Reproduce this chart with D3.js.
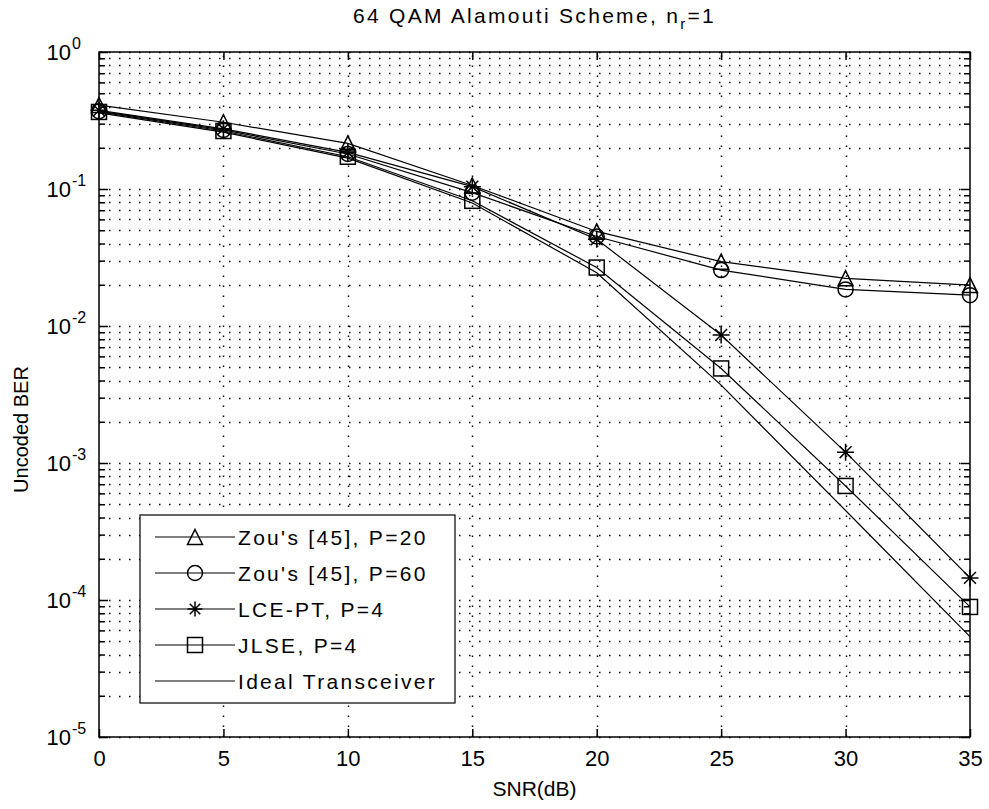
<!DOCTYPE html>
<html>
<head>
<meta charset="utf-8">
<script src="https://cdn.jsdelivr.net/npm/d3@7"></script>
<style>
  html, body { margin: 0; padding: 0; background: #fff; }
  svg { display: block; font-family: "Liberation Sans", Arial, Helvetica, sans-serif; }
</style>
</head>
<body>
<svg id="chart" width="989" height="809"></svg>
<script>
// SNR points (dB)
const snr = [0, 5, 10, 15, 20, 25, 30, 35];

// Uncoded BER per scheme
const berZouP20 = [0.41, 0.307, 0.215, 0.106, 0.049, 0.0295, 0.0223, 0.0199];
const berZouP60 = [0.37, 0.27, 0.18, 0.094, 0.045, 0.0256, 0.0185, 0.0168];
const berLcePt  = [0.375, 0.275, 0.185, 0.104, 0.043, 0.0086, 0.0012, 0.000145];
const berJlse   = [0.365, 0.265, 0.172, 0.082, 0.0267, 0.0049, 0.00068, 0.000089];
const berIdeal  = [0.36, 0.26, 0.168, 0.079, 0.0245, 0.0037, 0.00045, 0.000054];

const seriesNames = ["Zou's [45], P=20", "Zou's [45], P=60", "LCE-PT, P=4", "JLSE, P=4", "Ideal Transceiver"];
const seriesMarkers = ["triangle", "circle", "star", "square", "none"];
const seriesValues = [berZouP20, berZouP60, berLcePt, berJlse, berIdeal];

const xTicks = [0, 5, 10, 15, 20, 25, 30, 35];
const yDecadeExponents = [0, -1, -2, -3, -4, -5];

const titleText = "64 QAM Alamouti Scheme, n";
const titleSub = "r";
const titleTail = "=1";
const xLabel = "SNR(dB)";
const yLabel = "Uncoded BER";

const svg = d3.select("#chart");
const W = 989, H = 809;
const m = { left: 99, right: 19, top: 52, bottom: 72 };
const x0 = m.left, x1 = W - m.right, y0 = H - m.bottom, y1 = m.top;

svg.append("rect").attr("width", W).attr("height", H).attr("fill", "#fff");

const x = d3.scaleLinear().domain([0, 35]).range([x0, x1]);
const y = d3.scaleLog().domain([1e-5, 1]).range([y0, y1]);

const decades = yDecadeExponents.map(e => Math.pow(10, e));
const minorVals = [];
for (let e = -5; e < 0; e++) {
  for (let k = 2; k <= 9; k++) minorVals.push(k * Math.pow(10, e));
}

// dotted grid
const grid = svg.append("g").attr("stroke", "#000").attr("stroke-width", 1.5)
  .attr("stroke-dasharray", "1.5,8.5").attr("fill", "none");
decades.concat(minorVals).forEach(v => {
  grid.append("line").attr("x1", x0).attr("x2", x1)
    .attr("y1", Math.round(y(v)) + 0.5).attr("y2", Math.round(y(v)) + 0.5);
});
xTicks.filter(t => t > 0 && t < 35).forEach(t => {
  grid.append("line").attr("y1", y0).attr("y2", y1)
    .attr("x1", Math.round(x(t)) + 0.5).attr("x2", Math.round(x(t)) + 0.5);
});

// series lines and markers
const line = d3.line().x((d, i) => x(snr[i])).y(d => y(d));
const plot = svg.append("g");

function drawMarker(g, type, cx, cy, s) {
  const h = s / 2;
  if (type === "triangle") {
    g.append("path").attr("d", `M${cx},${cy - h}L${cx + h},${cy + h}L${cx - h},${cy + h}Z`)
      .attr("fill", "none").attr("stroke", "#000").attr("stroke-width", 1.5);
  } else if (type === "circle") {
    g.append("circle").attr("cx", cx).attr("cy", cy).attr("r", h)
      .attr("fill", "none").attr("stroke", "#000").attr("stroke-width", 1.5);
  } else if (type === "square") {
    g.append("rect").attr("x", cx - h).attr("y", cy - h).attr("width", s).attr("height", s)
      .attr("fill", "none").attr("stroke", "#000").attr("stroke-width", 1.5);
  } else if (type === "star") {
    const d = h * 0.7;
    g.append("path")
      .attr("d", `M${cx - h},${cy}L${cx + h},${cy}M${cx},${cy - h}L${cx},${cy + h}` +
                 `M${cx - d},${cy - d}L${cx + d},${cy + d}M${cx - d},${cy + d}L${cx + d},${cy - d}`)
      .attr("fill", "none").attr("stroke", "#000").attr("stroke-width", 1.5);
  }
}

seriesValues.forEach((vals, si) => {
  plot.append("path").datum(vals).attr("d", line)
    .attr("fill", "none").attr("stroke", "#000").attr("stroke-width", 1.2);
});
seriesValues.forEach((vals, si) => {
  const type = seriesMarkers[si];
  if (type === "none") return;
  const size = type === "star" ? 17 : 15;
  vals.forEach((v, i) => drawMarker(plot, type, x(snr[i]), y(v), size));
});

// axes box
svg.append("rect").attr("x", x0).attr("y", y1).attr("width", x1 - x0).attr("height", y0 - y1)
  .attr("fill", "none").attr("stroke", "#000").attr("stroke-width", 1.5);

// ticks (inward)
const axisStyle = g => {
  g.select(".domain").remove();
  g.selectAll(".tick line").attr("stroke", "#000").attr("stroke-width", 1.5);
};
svg.append("g").attr("transform", `translate(0,${y0})`)
  .call(d3.axisBottom(x).tickValues(xTicks).tickSize(-8).tickPadding(13).tickFormat(d3.format("d")))
  .call(axisStyle)
  .call(g => g.selectAll("text").attr("font-size", 22).attr("fill", "#000")
    .attr("font-family", "Liberation Sans, Arial, sans-serif"));
svg.append("g").attr("transform", `translate(0,${y1})`)
  .call(d3.axisTop(x).tickValues(xTicks).tickSize(-8).tickFormat(""))
  .call(axisStyle);
svg.append("g").attr("transform", `translate(${x0},0)`)
  .call(d3.axisLeft(y).tickValues(decades).tickSize(-9).tickFormat(""))
  .call(axisStyle);
svg.append("g").attr("transform", `translate(${x0},0)`)
  .call(d3.axisLeft(y).tickValues(minorVals).tickSize(-6).tickFormat(""))
  .call(axisStyle);
svg.append("g").attr("transform", `translate(${x1},0)`)
  .call(d3.axisRight(y).tickValues(decades).tickSize(-9).tickFormat(""))
  .call(axisStyle);
svg.append("g").attr("transform", `translate(${x1},0)`)
  .call(d3.axisRight(y).tickValues(minorVals).tickSize(-6).tickFormat(""))
  .call(axisStyle);

// y decade labels 10^e
yDecadeExponents.forEach(e => {
  svg.append("text").attr("x", x0 - 28).attr("y", y(Math.pow(10, e)) + 8)
    .attr("text-anchor", "end").attr("font-size", 22).attr("fill", "#000")
    .text("10");
  svg.append("text").attr("x", x0 - 27).attr("y", y(Math.pow(10, e)) - 3)
    .attr("text-anchor", "start").attr("font-size", 16).attr("fill", "#000")
    .text(String(e));
});

// title
const title = svg.append("text").attr("x", (x0 + x1) / 2).attr("y", 23)
  .attr("text-anchor", "middle").attr("font-size", 21).attr("fill", "#000")
  .attr("letter-spacing", 2.3);
title.append("tspan").text(titleText);
title.append("tspan").attr("font-size", 15).attr("dy", 6).text(titleSub);
title.append("tspan").attr("dy", -6).text(titleTail);

// axis labels
svg.append("text").attr("x", (x0 + x1) / 2).attr("y", 796).attr("text-anchor", "middle")
  .attr("font-size", 21).attr("fill", "#000").text(xLabel);
svg.append("text").attr("transform", `translate(28,${(y0 + y1) / 2 + 35}) rotate(-90)`)
  .attr("text-anchor", "middle").attr("font-size", 20).attr("fill", "#000").text(yLabel);

// legend
const lg = svg.append("g");
const lgX = 140, lgY = 515, lgW = 315, lgH = 188, rowH = 36;
lg.append("rect").attr("x", lgX).attr("y", lgY).attr("width", lgW).attr("height", lgH)
  .attr("fill", "#fff").attr("stroke", "#000").attr("stroke-width", 1.2);
seriesNames.forEach((name, i) => {
  const cy = lgY + 22 + i * rowH;
  lg.append("line").attr("x1", lgX + 15).attr("x2", lgX + 95).attr("y1", cy).attr("y2", cy)
    .attr("stroke", "#000").attr("stroke-width", 1.2);
  const type = seriesMarkers[i];
  if (type !== "none") drawMarker(lg, type, lgX + 55, cy, 15);
  lg.append("text").attr("x", lgX + 98).attr("y", cy + 7.5).attr("font-size", 21)
    .attr("fill", "#000").attr("letter-spacing", 2.3).text(name);
});
</script>
</body>
</html>
